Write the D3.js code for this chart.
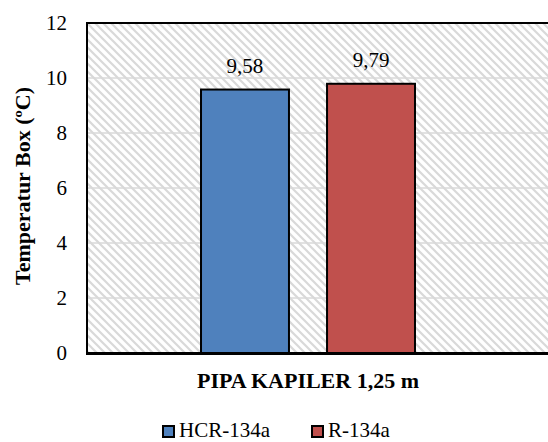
<!DOCTYPE html>
<html><head><meta charset="utf-8">
<script src="https://cdn.jsdelivr.net/npm/d3@7/dist/d3.min.js"></script>
<style>body{margin:0;background:#fff;} svg{display:block;}</style>
</head><body>
<script>
const categories = ["PIPA KAPILER 1,25 m"];
const seriesNames = ["HCR-134a", "R-134a"];
const seriesValues = [[9.58], [9.79]];
const seriesColors = ["#4f81bd", "#c0504d"];
const yTicks = [0, 2, 4, 6, 8, 10, 12];
const valueLabels = [["9,58"], ["9,79"]];

const W = 548, H = 442;
const m = {left: 87, top: 23, bottom: 353, right: 529};
const FF = "Liberation Serif";

const svg = d3.select("body").append("svg").attr("width", W).attr("height", H);
const defs = svg.append("defs");
const pat = defs.append("pattern").attr("id", "hatch").attr("patternUnits", "userSpaceOnUse")
  .attr("width", 8).attr("height", 8);
pat.append("rect").attr("width", 8).attr("height", 8).attr("fill", "#fff");
pat.append("path").attr("d", "M-2,-2 L10,10 M-2,6 L2,10 M6,-2 L10,2")
  .attr("stroke", "#d9d9d9").attr("stroke-width", 2.2);

const y = d3.scaleLinear().domain([0, 12]).range([m.bottom, m.top]);
const x0 = d3.scaleBand().domain(categories).range([m.left, m.right]).padding(0.3476);
const x1 = d3.scaleBand().domain(seriesNames).range([0, x0.bandwidth()]).paddingInner(0.302).paddingOuter(0);

svg.append("rect").attr("x", m.left).attr("y", m.top).attr("width", W - m.left).attr("height", m.bottom - m.top)
  .attr("fill", "url(#hatch)");

svg.append("g").selectAll("line").data(yTicks.filter(t => t > 0 && t < 12)).join("line")
  .attr("x1", m.left).attr("x2", W).attr("y1", d => y(d)).attr("y2", d => y(d))
  .attr("stroke", "#d9d9d9").attr("stroke-width", 1.5);

const g = svg.append("g");
seriesNames.forEach((s, i) => {
  categories.forEach((c, j) => {
    const v = seriesValues[i][j];
    g.append("rect")
      .attr("x", x0(c) + x1(s)).attr("y", y(v))
      .attr("width", x1.bandwidth()).attr("height", y(0) - y(v))
      .attr("fill", seriesColors[i]).attr("stroke", "#000").attr("stroke-width", 2);
    g.append("text")
      .attr("x", x0(c) + x1(s) + x1.bandwidth() / 2).attr("y", y(v) - 16.5)
      .attr("text-anchor", "middle").attr("font-family", FF).attr("font-size", 21)
      .attr("fill", "#000").text(valueLabels[i][j]);
  });
});

svg.append("line").attr("x1", m.left).attr("x2", W).attr("y1", m.top).attr("y2", m.top)
  .attr("stroke", "#000").attr("stroke-width", 2);
svg.append("line").attr("x1", m.left).attr("x2", m.left).attr("y1", m.top - 1).attr("y2", m.bottom)
  .attr("stroke", "#000").attr("stroke-width", 2);

const yAxis = svg.append("g").attr("transform", `translate(${m.left},0)`)
  .call(d3.axisLeft(y).tickValues(yTicks).tickSize(0).tickPadding(20))
  .attr("font-family", FF).attr("font-size", 21);
yAxis.select(".domain").remove();
yAxis.selectAll("text").attr("fill", "#000");

const xAxis = svg.append("g").attr("transform", `translate(0,${m.bottom})`)
  .call(d3.axisBottom(x0).tickSize(0).tickFormat(""));
xAxis.select(".domain").remove();
svg.append("line").attr("x1", m.left - 1).attr("x2", W).attr("y1", m.bottom + 0.5).attr("y2", m.bottom + 0.5)
  .attr("stroke", "#000").attr("stroke-width", 3);

svg.append("text").attr("x", x0(categories[0]) + x0.bandwidth() / 2).attr("y", 388)
  .attr("text-anchor", "middle").attr("font-family", FF).attr("font-weight", "bold")
  .attr("font-size", 22).attr("fill", "#000").text(categories[0]);

svg.append("text").attr("transform", "translate(30,186) rotate(-90)")
  .attr("text-anchor", "middle").attr("font-family", FF).attr("font-weight", "bold")
  .attr("font-size", 22).attr("fill", "#000").text("Temperatur Box (ºC)");

const leg = svg.append("g");
const legX = [162, 311];
seriesNames.forEach((s, i) => {
  leg.append("rect").attr("x", legX[i] + 1).attr("y", 426).attr("width", 11).attr("height", 11)
    .attr("fill", seriesColors[i]).attr("stroke", "#000").attr("stroke-width", 2);
  leg.append("text").attr("x", legX[i] + 17).attr("y", 437).attr("font-family", FF).attr("font-size", 21)
    .attr("fill", "#000").text(s);
});
</script>
</body></html>
